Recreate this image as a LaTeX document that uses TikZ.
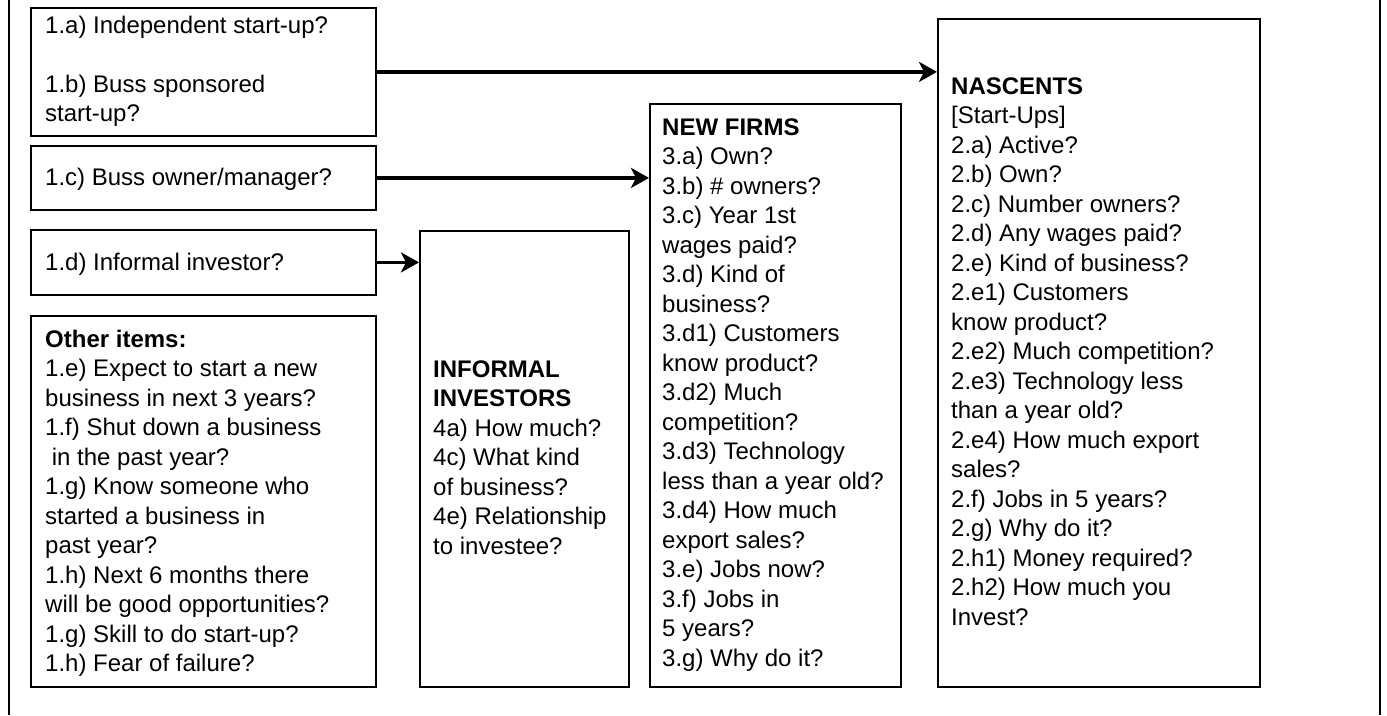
\documentclass[tikz,border=0pt]{standalone}
\usepackage{fontspec}
\setmainfont{Liberation Sans}
\usetikzlibrary{arrows.meta}
\begin{document}
\begin{tikzpicture}[x=1pt,y=-1pt,
  box/.style={draw, line width=1.8pt, inner sep=0pt, anchor=north west},
  txt/.style={anchor=north west, inner sep=0pt, align=left, font=\fontsize{24}{29.5}\selectfont},
  conn/.style={line width=3.5pt, -{Stealth[length=18pt,width=20pt,inset=5pt]}},
  frameline/.style={line width=2pt}]
\useasboundingbox (0,0) rectangle (1387,715);
\draw[frameline] (9,0) -- (9,715);
\draw[frameline] (1380,0) -- (1380,715);
% boxes
\node[box, minimum width=345pt, minimum height=128pt] (ab) at (30,7) {};
\node[box, minimum width=345pt, minimum height=64pt] (c) at (30,145) {};
\node[box, minimum width=345pt, minimum height=65pt] (d) at (30,229) {};
\node[box, minimum width=345pt, minimum height=371pt] (oth) at (30,315) {};
\node[box, minimum width=209pt, minimum height=456pt] (inf) at (419,230) {};
\node[box, minimum width=251pt, minimum height=583pt] (nf) at (649,103) {};
\node[box, minimum width=322pt, minimum height=668pt] (nas) at (937,18) {};
% texts
\node[txt] (tab) at (45,15.5) {1.a) Independent start-up?\\[29.5pt]1.b) Buss sponsored\\start-up?};
\node[txt] (tc) at (45,167.5) {1.c) Buss owner/manager?};
\node[txt] (td) at (45,252.5) {1.d) Informal investor?};
\node[txt] (toth) at (45,329.5) {\textbf{Other items:}\\1.e) Expect to start a new\\business in next 3 years?\\1.f) Shut down a business\\\ in the past year?\\1.g) Know someone who\\started a business in\\past year?\\1.h) Next 6 months there\\will be good opportunities?\\1.g) Skill to do start-up?\\1.h) Fear of failure?};
\node[txt] (tinf) at (433,360.5) {\textbf{INFORMAL}\\\textbf{INVESTORS}\\4a) How much?\\4c) What kind\\of business?\\4e) Relationship\\to investee?};
\node[txt] (tnf) at (662,118.5) {\textbf{NEW FIRMS}\\3.a) Own?\\3.b) \# owners?\\3.c) Year 1st\\wages paid?\\3.d) Kind of\\business?\\3.d1) Customers\\know product?\\3.d2) Much\\competition?\\3.d3) Technology\\less than a year old?\\3.d4) How much\\export sales?\\3.e) Jobs now?\\3.f) Jobs in\\5 years?\\3.g) Why do it?};
\node[txt] (tnas) at (951,77.5) {\textbf{NASCENTS}\\{[}Start-Ups]\\2.a) Active?\\2.b) Own?\\2.c) Number owners?\\2.d) Any wages paid?\\2.e) Kind of business?\\2.e1) Customers\\know product?\\2.e2) Much competition?\\2.e3) Technology less\\than a year old?\\2.e4) How much export\\sales?\\2.f) Jobs in 5 years?\\2.g) Why do it?\\2.h1) Money required?\\2.h2) How much you\\Invest?};
% connectors
\draw[conn] (ab.east) -- (ab.east -| nas.west);
\draw[conn] (c.east) -- (c.east -| nf.west);
\draw[conn] (d.east) -- (d.east -| inf.west);
\end{tikzpicture}
\end{document}
